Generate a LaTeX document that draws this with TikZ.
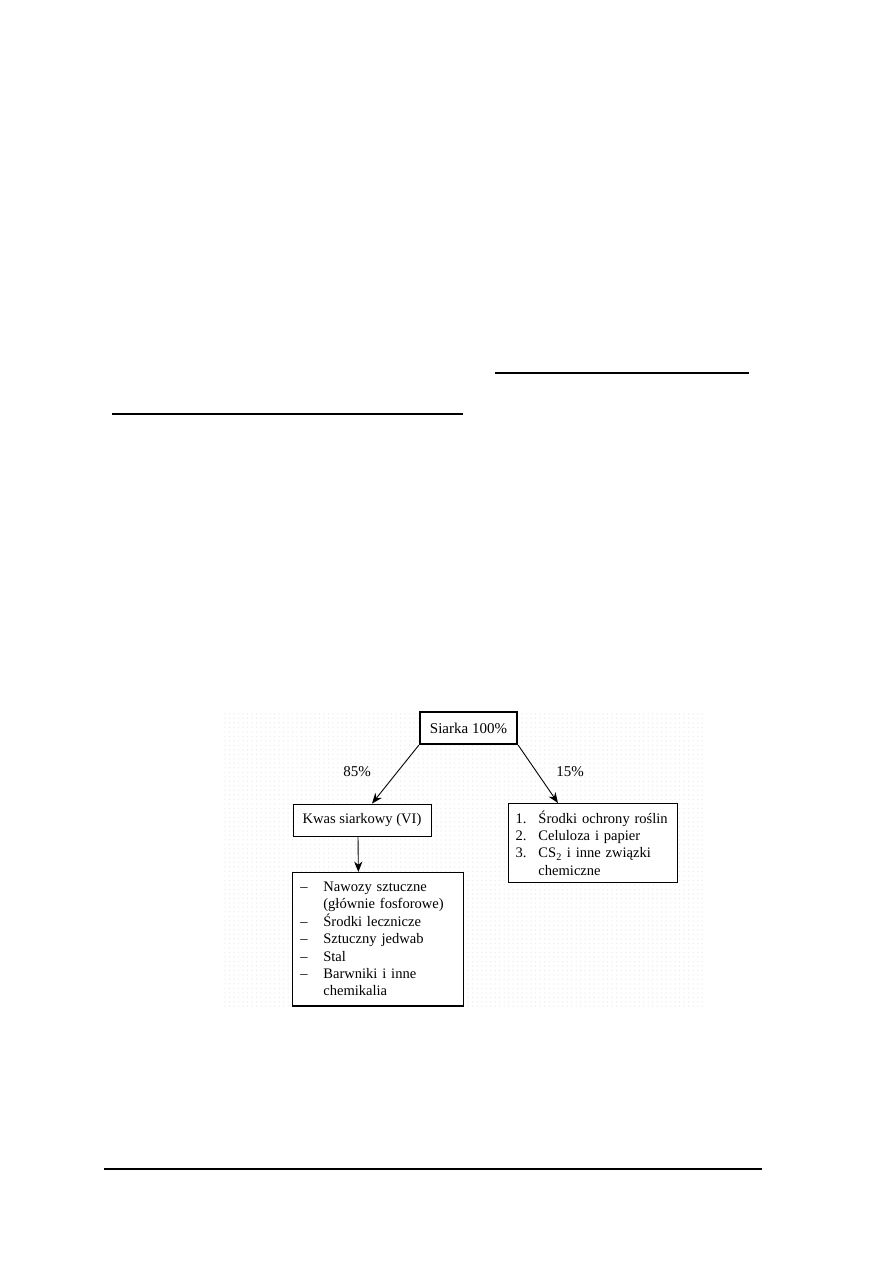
\documentclass[tikz,border=0pt]{standalone}
\usepackage{fontspec}
\setmainfont{Liberation Serif}
\usetikzlibrary{arrows.meta,calc,patterns}
\begin{document}
\begin{tikzpicture}[x=0.66667pt,y=-0.66667pt,
  box/.style={draw,line width=0.6pt,font=\fontsize{9.7}{11.6}\selectfont,inner ysep=2pt},
  conn/.style={-{Stealth[length=7pt,width=5.5pt]},line width=0.6pt},
  rulefig/.style={line width=0.8pt},
  lbl/.style={font=\fontsize{10}{12}\selectfont}]
\useasboundingbox (0,0) rectangle (893,1263);
% page rules
\coordinate (r1a) at (495,373); \coordinate (r1b) at (749,373);
\coordinate (r2a) at (112,414); \coordinate (r2b) at (463,414);
\coordinate (r3a) at (104,1169); \coordinate (r3b) at (762,1169);
\draw[rulefig] (r1a) -- (r1b);
\draw[rulefig] (r2a) -- (r2b);
\draw[rulefig] (r3a) -- (r3b);
% dotted background
\fill[pattern=dots,pattern color=black!8] (222,710) rectangle (705,1006);
% nodes
\node[box,font=\fontsize{10}{12}\selectfont,line width=1.5pt,minimum width=64.7pt,minimum height=21.3pt,fill=white] (siarka) at (468.5,728) {Siarka 100\%};
\node[box,minimum width=92pt,minimum height=21.3pt,fill=white] (kwas) at (362,820) {Kwas siarkowy (VI)};
\node[box,anchor=north west,text width=103.3pt,inner xsep=4.7pt,minimum height=52.7pt,align=left,fill=white] (ochr) at (508,803) {%
\mbox{\makebox[15.3pt][l]{1.}Środki ochrony roślin}\\
\makebox[15.3pt][l]{2.}Celuloza i papier\\
\makebox[15.3pt][l]{3.}CS\textsubscript{2} i inne związki\\
\hspace*{15.3pt}chemiczne};
\node[box,anchor=north west,text width=103.3pt,inner xsep=5.3pt,minimum height=88.7pt,align=left,fill=white] (list) at (292,872) {%
\makebox[15.3pt][l]{–}Nawozy sztuczne\\
\hspace*{15.3pt}(głównie fosforowe)\\
\makebox[15.3pt][l]{–}Środki lecznicze\\
\makebox[15.3pt][l]{–}Sztuczny jedwab\\
\makebox[15.3pt][l]{–}Stal\\
\makebox[15.3pt][l]{–}Barwniki i inne\\
\hspace*{15.3pt}chemikalia};
\draw[line width=1.3pt] (list.south west) -- (list.south east);
\node[lbl] (p85) at (357,772) {85\%};
\node[lbl] (p15) at (570,772) {15\%};
% connectors
\draw[conn] (siarka.south west) -- ($(kwas.north)+(10,0)$);
\draw[conn] (siarka.south east) -- ($(ochr.north)+(-35,0)$);
\draw[conn] ($(kwas.south)+(-4,0)$) -- ($(list.north)+(-19.5,0)$);
\end{tikzpicture}
\end{document}
